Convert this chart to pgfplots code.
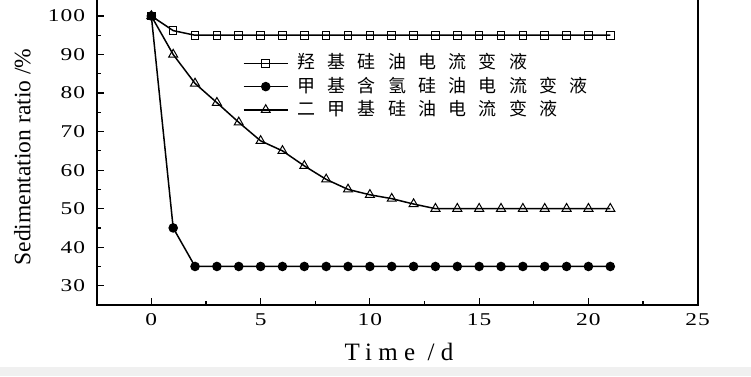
\documentclass[border=0pt]{standalone}
\usepackage{fontspec}
\setmainfont{Liberation Serif}
\newfontfamily\tickfont[LetterSpace=6,FakeStretch=1.3]{Liberation Serif}
\newfontfamily\labfont[LetterSpace=25]{Liberation Serif}
\newfontfamily\cjk[LetterSpace=68]{Noto Sans CJK SC}
\usepackage{pgfplots}
\pgfplotsset{compat=1.18}
\begin{document}
\begin{tikzpicture}
\fill[black!6] (0,0) rectangle (751pt,9.3pt);
\begin{axis}[
  at={(96.7pt,71pt)}, anchor=south west,
  scale only axis, width=601pt, height=308.3pt,
  xmin=-2.5, xmax=25, ymin=25, ymax=105,
  xtick={0,5,...,25}, ytick={30,40,...,100},
  minor x tick num=1, minor y tick num=1,
  xtick pos=bottom, ytick pos=left,
  tick align=inside,
  major tick length=7pt, minor tick length=4pt,
  axis line style={line width=1.6pt},
  every tick/.style={black, line width=1.2pt},
  /pgf/number format/assume math mode=true,
  tick label style={font=\tickfont\fontsize{18}{21}\selectfont},
  yticklabel style={xshift=-8pt},
  xticklabel style={yshift=-5pt},
  xlabel={Time /d}, ylabel={Sedimentation ratio /\%},
  every axis x label/.style={at={(axis description cs:0.503,-0.1784)}, anchor=base, font=\labfont\fontsize{25}{29}\selectfont},
  every axis y label/.style={at={(axis description cs:-0.1235,0.48)}, anchor=center, rotate=90, font=\fontsize{23.5}{27}\selectfont},
  legend style={at={(axis description cs:0.2434,0.8116)}, anchor=north west, draw=none, fill=none,
    inner sep=0pt, outer sep=0pt, row sep=6.3pt, column sep=9pt,
    nodes={inner sep=0pt, text height=14pt, text depth=3pt, font=\cjk\fontsize{18}{20}\selectfont}},
  legend cell align=left,
  legend image code/.code={\draw[mark repeat=2, mark phase=2, #1] plot coordinates {(0pt,0pt) (22pt,0pt) (44pt,0pt)};},
]
\addplot[black, line width=1.5pt, mark=square, mark size=3.8pt, mark options={fill=white, line width=1pt}]
coordinates {(0,100) (1,96.2) (2,95) (3,95) (4,95) (5,95) (6,95) (7,95) (8,95) (9,95) (10,95) (11,95) (12,95) (13,95) (14,95) (15,95) (16,95) (17,95) (18,95) (19,95) (20,95) (21,95)};
\addlegendentry{羟基硅油电流变液}
\addplot[black, line width=1.5pt, mark=*, mark size=4pt, mark options={fill=black}]
coordinates {(0,100) (1,45) (2,35) (3,35) (4,35) (5,35) (6,35) (7,35) (8,35) (9,35) (10,35) (11,35) (12,35) (13,35) (14,35) (15,35) (16,35) (17,35) (18,35) (19,35) (20,35) (21,35)};
\addlegendentry{甲基含氢硅油电流变液}
\addplot[black, line width=1.5pt, mark=triangle, mark size=5.2pt, mark options={fill=white, line width=1pt}]
coordinates {(0,100) (1,90) (2,82.5) (3,77.5) (4,72.4) (5,67.6) (6,65) (7,61.1) (8,57.6) (9,55) (10,53.6) (11,52.6) (12,51.2) (13,50) (14,50) (15,50) (16,50) (17,50) (18,50) (19,50) (20,50) (21,50)};
\addlegendentry{二甲基硅油电流变液}
\end{axis}
\pgfresetboundingbox
\path[use as bounding box] (0,0) rectangle (751pt,376pt);
\end{tikzpicture}
\end{document}
